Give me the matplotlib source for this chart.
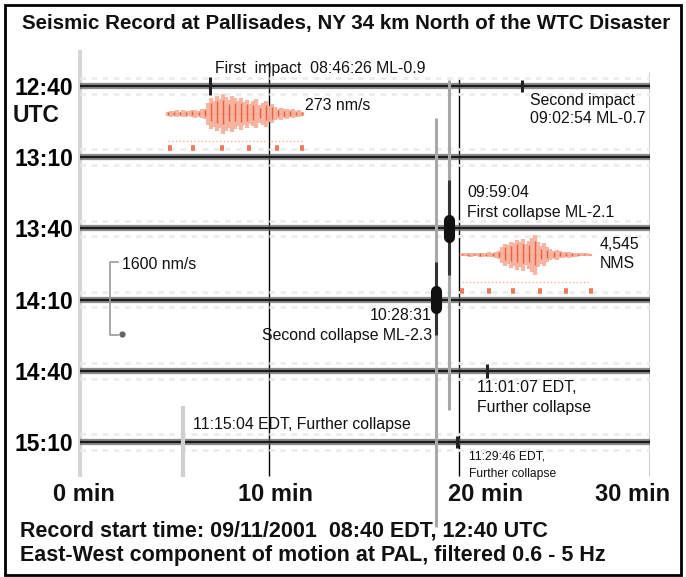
import numpy as np
import matplotlib
matplotlib.use('Agg')
import matplotlib.pyplot as plt
from matplotlib.patches import Rectangle

plt.rcParams['font.family'] = ['Liberation Sans', 'DejaVu Sans']

# trace rows (start time of each 30 minute line, UTC)
row_labels = ['12:40', '13:10', '13:40', '14:10', '14:40', '15:10']
rows = np.arange(len(row_labels))
minute_lines = [10, 20, 30]
minute_labels = ['0 min', '10 min', '20 min', '30 min']

# small blips on the traces: row, minute, half height (rows)
blip_row = [0, 0, 4, 5, 5]
blip_min = [6.92, 23.3, 21.45, 5.5, 19.9]
blip_size = [0.12, 0.08, 0.1, 0.13, 0.08]

# the two collapse arrivals
collapse_row = [2, 3]
collapse_min = [19.45, 18.8]

# long vertical streaks through several traces
streak_min = [18.77, 19.45]
streak_top = [0.45, -0.08]
streak_bot = [6.19, 4.55]
streak_dark_top = [2.47, 1.32]
streak_dark_bot = [3.50, 2.65]

# inset waveforms (nm/s), one sample every 0.16 min
impact_amp = [30, 40, 35, 45, 30, 50, 40, 35, 45, 55, 40, 60, 70, 150, 210,
              180, 240, 200, 273, 230, 190, 250, 210, 170, 220, 160, 190, 140,
              170, 200, 120, 150, 180, 110, 130, 90, 70, 80, 60, 70, 50, 60,
              40, 45, 30]
impact_start = 4.72
collapse_amp = [300, 400, 350, 450, 300, 400, 500, 450, 350, 600, 500, 700,
                900, 1800, 2500, 2200, 3000, 2600, 3400, 2800, 3600, 2400,
                3200, 3900, 4545, 2900, 2000, 2600, 1700, 1200, 900, 1100, 800,
                700, 600, 650, 500, 450, 400, 350, 300, 350, 250]
collapse_start = 20.14
sample_step = 0.16
impact_ticks = [4.82, 6.03, 7.55, 8.97, 10.44, 11.75]
collapse_ticks = [20.14, 21.55, 22.81, 24.23, 25.59, 26.90]

fig = plt.figure(figsize=(6.86, 5.77), dpi=100)
# axes: x 78..650 px -> 0..30 min, y 40..577 px
ax = fig.add_axes([78/686, 0, 572/686, 537/577])
ax.set_xlim(0, 30)
ax.set_ylim(6.896, -0.646)
for s in ax.spines.values():
    s.set_visible(False)
ax.set_xticks([])
ax.set_yticks(rows, row_labels, fontsize=16.5, fontweight='bold')
ax.tick_params(axis='y', length=0, pad=3.5)

# start of the traces and the minute lines
ax.vlines(0.1, -0.5, 5.49, color='#d6d6d6', lw=3)
ax.vlines(minute_lines, [-0.34, -0.13, -0.2], 5.48, color='black', lw=1)

# traces
for off in (-0.11, 0.11):
    ax.hlines(rows + off, 0.1, 30, color='#ececec', lw=2, linestyles=(0, (2, 2)))
ax.hlines(rows, 0.1, 30, color='#666666', lw=4.5, alpha=0.75)
ax.hlines(rows, 0.1, 30, color='#1a1a1a', lw=1.6)
ax.vlines(blip_min, np.array(blip_row) - np.array(blip_size),
          np.array(blip_row) + np.array(blip_size), color='#222', lw=2.2)
ax.vlines(5.5, 4.5, 5.49, color='#cfcfcf', lw=3)

# collapse streaks
ax.vlines(streak_min, streak_top, streak_bot, color='#a8a8a8', lw=2.2)
ax.vlines(streak_min, streak_dark_top, streak_dark_bot, color='#333', lw=2.2)
for r, m in zip(collapse_row, collapse_min):
    ax.plot([m, m], [r - 0.12, r + 0.12], color='#111', lw=8,
            solid_capstyle='round')


def inset(amp, start, peak, base, tick_row, dot_row, ticks):
    t = start + sample_step * np.arange(len(amp))
    a = np.array(amp) / peak * 0.28
    ax.plot([t[0], t[-1]], [dot_row, dot_row], ls=':', color='#f2b3a3', lw=1)
    ax.hlines(base, t[0], t[-1], color='#f4a48e', lw=1.4)
    ax.vlines(t, base - a, base + a, color='#f6b09a', lw=3.1, alpha=0.9)
    ax.vlines(t[::2], base - 0.7 * a[::2], base + 0.5 * a[::2],
              color='#e8603f', lw=1.0)
    tk = np.array(ticks)
    ax.hlines(np.full(len(tk), tick_row), tk - 0.1, tk + 0.1,
              color='#ee7a5c', lw=4)


inset(impact_amp, impact_start, 273, 0.39, 0.87, 0.77, impact_ticks)
inset(collapse_amp, collapse_start, 4545, 2.37, 2.88, 2.75, collapse_ticks)

# calibration bracket
ax.plot([2.1, 1.68, 1.68, 2.1], [2.47, 2.47, 3.50, 3.50], color='#9a9a9a', lw=1.2)
ax.plot(2.31, 3.48, 'o', color='#666', ms=3.5)

ann = dict(fontsize=11.4, va='center', color='#111')
ax.text(7.18, -0.24, 'First  impact  08:46:26 ML-0.9', **ann)
ax.text(11.9, 0.28, '273 nm/s', **ann)
ax.text(23.7, 0.21, 'Second impact', **ann)
ax.text(23.7, 0.46, '09:02:54 ML-0.7', **ann)
ax.text(20.4, 1.50, '09:59:04', **ann)
ax.text(20.4, 1.78, 'First collapse ML-2.1', **ann)
ax.text(27.37, 2.22, '4,545', **ann)
ax.text(27.37, 2.49, 'NMS', **ann)
ax.text(2.31, 2.51, '1600 nm/s', **ann)
ax.text(18.56, 3.22, '10:28:31', ha='right', **ann)
ax.text(18.56, 3.50, 'Second collapse ML-2.3', ha='right', **ann)
ax.text(20.92, 4.24, '11:01:07 EDT,', **ann)
ax.text(20.92, 4.51, 'Further collapse', **ann)
ax.text(6.03, 4.76, '11:15:04 EDT, Further collapse', **ann)
ax.text(20.5, 5.20, '11:29:46 EDT,', fontsize=8.7, va='center', color='#111')
ax.text(20.5, 5.45, 'Further collapse', fontsize=8.7, va='center', color='#111')

for xm, lab in zip([0.31, 10.38, 21.4, 29.1], minute_labels):
    ax.text(xm, 5.74, lab, ha='center', va='center', fontsize=17,
            fontweight='bold', color='#111')

fig.text(13/686, 1 - 115/577, 'UTC', ha='left', va='center', fontsize=16.5,
         fontweight='bold', color='#111')
fig.text(346/686, 1 - 23/577,
         'Seismic Record at Pallisades, NY 34 km North of the WTC Disaster',
         ha='center', va='center', fontsize=14.8, fontweight='bold', color='#111')
fig.text(20/686, 1 - 531/577,
         'Record start time: 09/11/2001  08:40 EDT, 12:40 UTC',
         ha='left', va='center', fontsize=15.5, fontweight='bold', color='#111')
fig.text(20/686, 1 - 555/577,
         'East-West component of motion at PAL, filtered 0.6 - 5 Hz',
         ha='left', va='center', fontsize=15.5, fontweight='bold', color='#111')

fig.patches.append(Rectangle((5/686, 2/577), 676/686, 570/577,
                             transform=fig.transFigure, fill=False,
                             edgecolor='black', lw=2))

fig.savefig('out.png', dpi=100)
